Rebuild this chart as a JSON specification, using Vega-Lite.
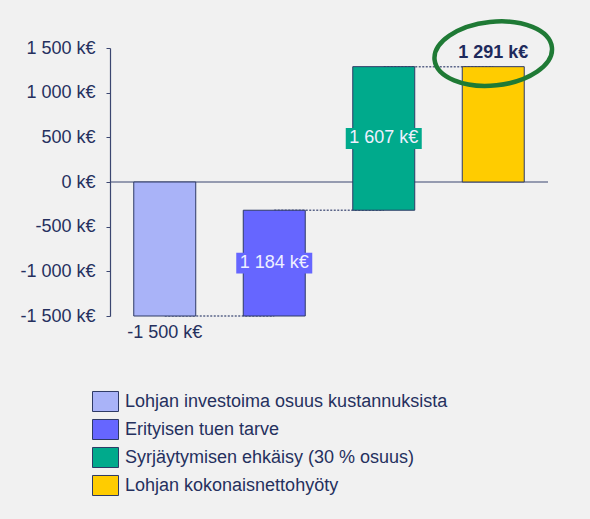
{
  "$schema": "https://vega.github.io/schema/vega-lite/v6.json",
  "autosize": "none",
  "width": 438,
  "height": 268,
  "padding": {"left": 110, "top": 48, "right": 42, "bottom": 203},
  "background": "#F1F1F1",
  "config": {
    "view": {"stroke": null},
    "font": "Liberation Sans",
    "text": {"font": "Liberation Sans"}
  },
  "encoding": {
    "x": {
      "field": "name",
      "type": "nominal",
      "sort": null,
      "scale": {
        "domain": ["Lohjan investoima osuus kustannuksista", "Erityisen tuen tarve", "Syrjäytymisen ehkäisy (30 % osuus)", "Lohjan kokonaisnettohyöty"],
        "paddingInner": 0.434,
        "paddingOuter": 0.217
      },
      "axis": null
    }
  },
  "layer": [
    {
      "data": {"values": [{"zero": 0}]},
      "mark": {"type": "rule", "color": "#3B4670", "strokeWidth": 1.2},
      "encoding": {
        "x": null,
        "y": {"field": "zero", "type": "quantitative"}
      }
    },
    {
      "data": {"values": [
        {"name": "Lohjan investoima osuus kustannuksista", "to": "Erityisen tuen tarve", "level": -1500},
        {"name": "Erityisen tuen tarve", "to": "Syrjäytymisen ehkäisy (30 % osuus)", "level": -316},
        {"name": "Syrjäytymisen ehkäisy (30 % osuus)", "to": "Lohjan kokonaisnettohyöty", "level": 1291}
      ]},
      "mark": {"type": "rule", "color": "#5A6488", "strokeWidth": 1.5, "strokeDash": [2, 1.5]},
      "encoding": {
        "x2": {"field": "to"},
        "y": {"field": "level", "type": "quantitative"}
      }
    },
    {
      "data": {"values": [
        {"name": "Lohjan investoima osuus kustannuksista", "start": 0, "end": -1500},
        {"name": "Erityisen tuen tarve", "start": -1500, "end": -316},
        {"name": "Syrjäytymisen ehkäisy (30 % osuus)", "start": -316, "end": 1291},
        {"name": "Lohjan kokonaisnettohyöty", "start": 0, "end": 1291}
      ]},
      "mark": {"type": "bar", "stroke": "#2E3A66", "strokeWidth": 1},
      "encoding": {
        "y": {
          "field": "start",
          "type": "quantitative",
          "scale": {"domain": [-1500, 1500], "nice": false},
          "axis": {
            "title": null,
            "grid": false,
            "values": [-1500, -1000, -500, 0, 500, 1000, 1500],
            "labelExpr": "replace(replace(format(datum.value, ','), ',', ' '), '−', '-') + ' k€'",
            "labelFontSize": 18,
            "labelColor": "#25305E",
            "labelFont": "Liberation Sans",
            "labelPadding": 11,
            "tickSize": 4,
            "tickColor": "#3B4670",
            "domainColor": "#3B4670",
            "domainWidth": 1.2,
            "labelBaseline": "middle"
          }
        },
        "y2": {"field": "end"},
        "color": {
          "field": "name",
          "type": "nominal",
          "scale": {
            "domain": ["Lohjan investoima osuus kustannuksista", "Erityisen tuen tarve", "Syrjäytymisen ehkäisy (30 % osuus)", "Lohjan kokonaisnettohyöty"],
            "range": ["#A9B3F8", "#6666FF", "#00AA8C", "#FFCC00"]
          },
          "legend": {
            "title": null,
            "orient": "none",
            "legendX": -18,
            "legendY": 340,
            "padding": 0,
            "symbolType": "M-1,-0.77H1V0.77H-1Z",
            "symbolSize": 676,
            "symbolStrokeColor": "#2E3A66",
            "symbolStrokeWidth": 1,
            "symbolOpacity": 1,
            "labelFontSize": 18,
            "labelColor": "#25305E",
            "labelFont": "Liberation Sans",
            "labelOffset": 6,
            "labelLimit": 500,
            "rowPadding": 2
          }
        }
      }
    },
    {
      "data": {"values": [
        {"name": "Erityisen tuen tarve", "mid": -908, "label": "1 184 k€"},
        {"name": "Syrjäytymisen ehkäisy (30 % osuus)", "mid": 487, "label": "1 607 k€"}
      ]},
      "mark": {"type": "point", "shape": "M-1,-0.276H1V0.276H-1Z", "size": 5776, "filled": true, "opacity": 1, "strokeWidth": 0},
      "encoding": {
        "y": {"field": "mid", "type": "quantitative"},
        "color": {"field": "name", "type": "nominal"}
      }
    },
    {
      "data": {"values": [
        {"name": "Erityisen tuen tarve", "mid": -908, "label": "1 184 k€"},
        {"name": "Syrjäytymisen ehkäisy (30 % osuus)", "mid": 487, "label": "1 607 k€"}
      ]},
      "mark": {"type": "text", "fontSize": 18, "color": "#EEF0FF", "baseline": "middle", "align": "center"},
      "encoding": {
        "y": {"field": "mid", "type": "quantitative"},
        "text": {"field": "label"}
      }
    },
    {
      "data": {"values": [
        {"name": "Lohjan investoima osuus kustannuksista", "pos": -1500, "label": "-1 500 k€"}
      ]},
      "mark": {"type": "text", "fontSize": 18, "color": "#25305E", "baseline": "middle", "align": "center", "dy": 17},
      "encoding": {
        "y": {"field": "pos", "type": "quantitative"},
        "text": {"field": "label"}
      }
    },
    {
      "data": {"values": [
        {"name": "Lohjan kokonaisnettohyöty", "pos": 1291, "label": "1 291 k€"}
      ]},
      "mark": {"type": "text", "fontSize": 18, "fontWeight": "bold", "color": "#1E2A5C", "baseline": "middle", "align": "center", "dy": -14},
      "encoding": {
        "y": {"field": "pos", "type": "quantitative"},
        "text": {"field": "label"}
      }
    },
    {
      "data": {"values": [
        {"name": "Lohjan kokonaisnettohyöty", "pos": 1291}
      ]},
      "mark": {"type": "point", "shape": "M-1,0A1,0.54 0 1,1 1,0A1,0.54 0 1,1 -1,0Z", "size": 13924, "filled": false, "stroke": "#1F7A35", "strokeWidth": 4.5, "opacity": 1, "angle": -6, "yOffset": -13},
      "encoding": {
        "y": {"field": "pos", "type": "quantitative"}
      }
    }
  ]
}
